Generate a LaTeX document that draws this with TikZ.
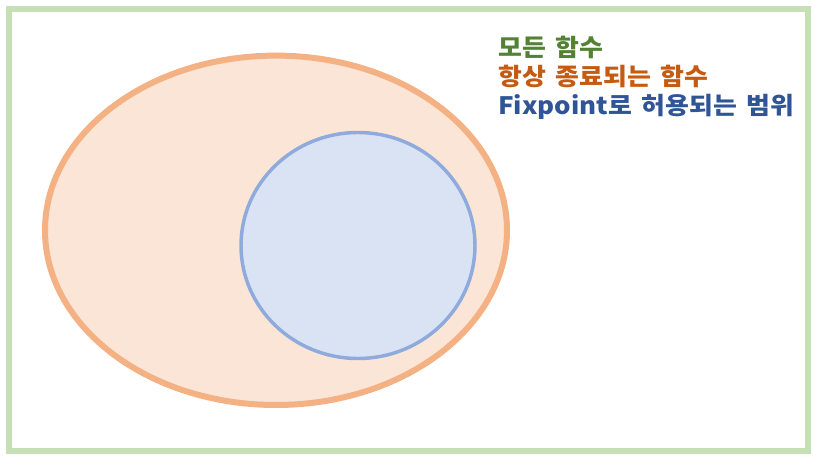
\documentclass[tikz,border=0pt]{standalone}
\usepackage{fontspec}
\usepackage{tikz}
\setmainfont[WordSpace=1.6]{Noto Sans CJK KR}
\definecolor{frame}{HTML}{C5E0B4}
\definecolor{allfill}{HTML}{FBE5D6}
\definecolor{allline}{HTML}{F4B183}
\definecolor{fixfill}{HTML}{DAE3F3}
\definecolor{fixline}{HTML}{8FAADC}
\definecolor{txtgreen}{HTML}{548235}
\definecolor{txtorange}{HTML}{C55A11}
\definecolor{txtblue}{HTML}{2F5597}
\tikzset{label/.style={anchor=base west,inner sep=0pt,xscale=1.08,transform shape,font=\fontsize{18}{22}\selectfont\bfseries}}
\begin{document}
\begin{tikzpicture}[x=0.75pt,y=-0.75pt]
					\useasboundingbox (0,0) rectangle (815,460);
					\draw[frame,line width=4.5pt] (9,9) rectangle (808,450.5);
					\draw[allline,fill=allfill,line width=4.5pt] (276,230.3) ellipse [x radius=231,y radius=174.7];
					\draw[fixline,fill=fixfill,line width=2.6pt] (358,245.5) ellipse [x radius=117,y radius=113];
					\node[label,txtgreen] (all) at (498,56.5){모든 함수};
					\node[label,txtorange] (total) at (498,85.5){항상 종료되는 함수};
					\node[label,txtblue] (fix) at (498,114.5){Fixpoint로 허용되는 범위};
				\end{tikzpicture}
\end{document}
